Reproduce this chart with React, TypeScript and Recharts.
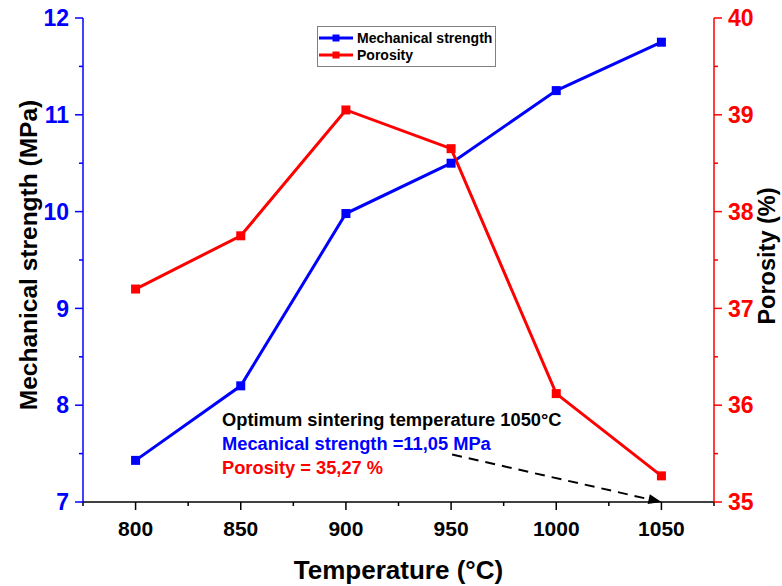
import React from "react";
import { Label, Legend, Line, LineChart, ReferenceLine, XAxis, YAxis } from "recharts";

const FONT = '"Liberation Sans", Arial, sans-serif';
const BLUE = "#0000ff";
const RED = "#ff0000";

const temperatures = [800, 850, 900, 950, 1000, 1050];
const strength = [7.43, 8.2, 9.98, 10.5, 11.25, 11.75];
const porosity = [37.2, 37.75, 39.05, 38.65, 36.12, 35.27];

const xTicks = [775, 800, 825, 850, 875, 900, 925, 950, 975, 1000, 1025, 1050, 1075];
const topTicks = [800, 850, 900, 950, 1000, 1050];
const leftTicks = [7, 7.5, 8, 8.5, 9, 9.5, 10, 10.5, 11, 11.5, 12];
const rightTicks = [35, 35.5, 36, 36.5, 37, 37.5, 38, 38.5, 39, 39.5, 40];

// arrow from the note text down to 1050 °C
const arrowFrom = { x: 950.5, y: 7.49 };
const arrowTo = { x: 1050, y: 7 };

const notes = [
  { text: "Optimum sintering temperature 1050°C", color: "#000" },
  { text: "Mecanical strength =11,05 MPa", color: BLUE },
  { text: "Porosity = 35,27 %", color: RED },
];

const data = temperatures.map((t, i) => ({
  temp: t,
  strength: strength[i],
  porosity: porosity[i],
}));

const isMajor = (v: number) => Number.isInteger(v) && (v < 100 || v % 50 === 0);

function LeftTick({ x, y, payload }: any) {
  const major = isMajor(payload.value);
  return (
    <g>
      <line x1={x} x2={x - (major ? 8 : 4)} y1={y} y2={y} stroke={BLUE} strokeWidth={1.5} />
      {major && (
        <text x={x - 14} y={y} dy="0.36em" textAnchor="end" fill={BLUE} fontSize={23} fontWeight="bold" fontFamily={FONT}>
          {payload.value}
        </text>
      )}
    </g>
  );
}

function RightTick({ x, y, payload }: any) {
  const major = isMajor(payload.value);
  return (
    <g>
      <line x1={x} x2={x + (major ? 8 : 4)} y1={y} y2={y} stroke={RED} strokeWidth={1.5} />
      {major && (
        <text x={x + 14} y={y} dy="0.36em" textAnchor="start" fill={RED} fontSize={23} fontWeight="bold" fontFamily={FONT}>
          {payload.value}
        </text>
      )}
    </g>
  );
}

function BottomTick({ x, y, payload }: any) {
  const v = payload.value;
  const major = isMajor(v) && v !== 775 && v !== 1075;
  return (
    <g>
      <line x1={x} x2={x} y1={y} y2={y + (major ? 8 : 4)} stroke="#000" strokeWidth={1.5} />
      {major && (
        <text x={x} y={y + 26} dy="0.36em" textAnchor="middle" fill="#000" fontSize={21} fontWeight="bold" fontFamily={FONT}>
          {v}
        </text>
      )}
    </g>
  );
}

function TopTick({ x, y }: any) {
  return <line x1={x} x2={x} y1={y} y2={y + 7} stroke="#000" strokeWidth={1.5} />;
}

// rotated axis title, a little above the middle of the axis like the source figure
function VerticalTitle(text: string, side: "left" | "right", size: number, lift: number) {
  return ({ viewBox }: any) => {
    const cx = side === "left" ? viewBox.x + 28 : viewBox.x + viewBox.width - 15;
    const cy = viewBox.y + viewBox.height / 2 - lift;
    return (
      <text
        x={cx}
        y={cy}
        dy="0.36em"
        transform={`rotate(-90, ${cx}, ${cy})`}
        textAnchor="middle"
        fill="#000"
        fontSize={size}
        fontWeight="bold"
        fontFamily={FONT}
      >
        {text}
      </text>
    );
  };
}

function Square(props: any) {
  const { cx, cy, stroke, index } = props;
  if (cx == null || cy == null) return <g key={index} />;
  return <rect key={index} x={cx - 4.5} y={cy - 4.5} width={9} height={9} fill={stroke} />;
}

function DashedArrow({ x1, y1, x2, y2 }: any) {
  const a = Math.atan2(y2 - y1, x2 - x1);
  const len = 13;
  const w = 5;
  const bx = x2 - len * Math.cos(a);
  const by = y2 - len * Math.sin(a);
  const pts = `${x2},${y2} ${bx - w * Math.sin(a)},${by + w * Math.cos(a)} ${bx + w * Math.sin(a)},${by - w * Math.cos(a)}`;
  return (
    <g>
      <line x1={x1} y1={y1} x2={bx} y2={by} stroke="#000" strokeWidth={2} strokeDasharray="10 7" />
      <polygon points={pts} fill="#000" />
    </g>
  );
}

function LegendBox({ payload }: any) {
  return (
    <div
      style={{
        border: "1px solid #808080",
        background: "#fff",
        padding: "2px 0 3px 1px",
        fontFamily: FONT,
      }}
    >
      {(payload || []).map((e: any) => (
        <div key={e.value} style={{ display: "flex", alignItems: "center", height: 17 }}>
          <svg width={38} height={10} style={{ flex: "none" }}>
            <line x1={0} x2={34} y1={5} y2={5} stroke={e.color} strokeWidth={3} />
            <rect x={13.5} y={1.5} width={7} height={7} fill={e.color} />
          </svg>
          <span style={{ fontSize: 14, fontWeight: "bold", color: "#000", whiteSpace: "nowrap" }}>{e.value}</span>
        </div>
      ))}
    </div>
  );
}

export default function App() {
  return (
    <div style={{ position: "absolute", left: 0, top: 0, width: 782, height: 586, background: "#fff", fontFamily: FONT }}>
      <LineChart width={782} height={586} data={data} margin={{ top: 18, right: 0, bottom: 0, left: 0 }}>
        <XAxis
          dataKey="temp"
          type="number"
          domain={[775, 1075]}
          ticks={xTicks}
          interval={0}
          height={84}
          tickSize={0}
          tickMargin={0}
          tickLine={false}
          tick={<BottomTick />}
          axisLine={{ stroke: "#000", strokeWidth: 1.5 }}
        >
          <Label
            value="Temperature (°C)"
            position="insideBottom"
            offset={7}
            style={{ fontSize: 26, fontWeight: "bold", fill: "#000", fontFamily: FONT }}
          />
        </XAxis>
        <XAxis
          xAxisId="top"
          dataKey="temp"
          type="number"
          orientation="top"
          domain={[775, 1075]}
          ticks={topTicks}
          interval={0}
          height={0}
          tickSize={0}
          tickMargin={0}
          tickLine={false}
          tick={<TopTick />}
          axisLine={{ stroke: "#000", strokeWidth: 1.5 }}
        />
        <YAxis
          yAxisId="left"
          domain={[7, 12]}
          ticks={leftTicks}
          interval={0}
          width={83}
          tickSize={0}
          tickMargin={0}
          tickLine={false}
          tick={<LeftTick />}
          axisLine={{ stroke: BLUE, strokeWidth: 1.5 }}
        >
          <Label content={VerticalTitle("Mechanical strength (MPa)", "left", 24.5, 5)} />
        </YAxis>
        <YAxis
          yAxisId="right"
          orientation="right"
          domain={[35, 40]}
          ticks={rightTicks}
          interval={0}
          width={68}
          tickSize={0}
          tickMargin={0}
          tickLine={false}
          tick={<RightTick />}
          axisLine={{ stroke: RED, strokeWidth: 1.5 }}
        >
          <Label content={VerticalTitle("Porosity (%)", "right", 23.5, 4)} />
        </YAxis>
        <Legend
          layout="vertical"
          align="center"
          verticalAlign="middle"
          content={<LegendBox />}
          wrapperStyle={{ position: "absolute", left: 317, top: 26, width: 179 }}
        />
        <ReferenceLine
          yAxisId="left"
          segment={[arrowFrom, arrowTo]}
          ifOverflow="visible"
          shape={(p: any) => <DashedArrow {...p} />}
        />
        <Line
          yAxisId="left"
          name="Mechanical strength"
          dataKey="strength"
          stroke={BLUE}
          strokeWidth={3}
          dot={(p: any) => <Square {...p} key={`s${p.index}`} />}
          isAnimationActive={false}
        />
        <Line
          yAxisId="right"
          name="Porosity"
          dataKey="porosity"
          stroke={RED}
          strokeWidth={3}
          dot={(p: any) => <Square {...p} key={`p${p.index}`} />}
          isAnimationActive={false}
        />
      </LineChart>
      <div style={{ position: "absolute", left: 222, top: 408, fontSize: 18.3, fontWeight: "bold", lineHeight: "24px" }}>
        {notes.map((n) => (
          <div key={n.text} style={{ color: n.color, whiteSpace: "nowrap" }}>
            {n.text}
          </div>
        ))}
      </div>
    </div>
  );
}
